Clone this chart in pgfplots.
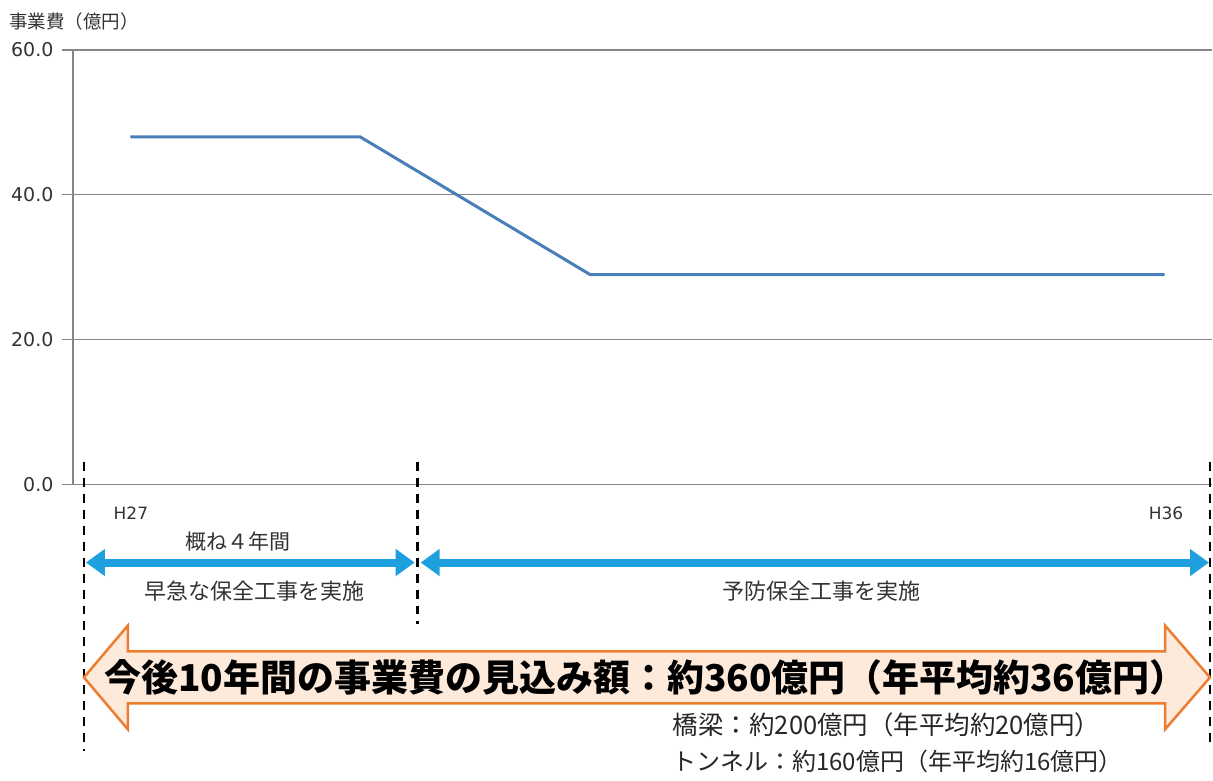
\documentclass[border=0pt]{standalone}
\usepackage{fontspec}
\setmainfont{Noto Sans CJK JP}
\newfontfamily\numfont{DejaVu Sans}
\usepackage{pgfplots}
\pgfplotsset{compat=1.18}
\usetikzlibrary{arrows.meta}
\definecolor{lineblue}{RGB}{74,126,187}
\definecolor{gridgray}{RGB}{134,134,134}
\definecolor{arrowcyan}{RGB}{30,160,222}
\definecolor{orangeedge}{RGB}{237,125,49}
\definecolor{orangefill}{RGB}{253,234,218}
\definecolor{ticktext}{RGB}{50,50,50}
\begin{document}
\begin{tikzpicture}
\begin{scope}[x=1bp,y=-1bp,shift={(-73bp,485bp)}]
\path[use as bounding box] (0,0) rectangle (1213,781);
\end{scope}
\begin{axis}[at={(0,0)}, anchor=south west, scale only axis,
  width=1140bp, height=435bp,
  xmin=-0.5, xmax=9.413, ymin=0, ymax=60,
  ytick={0,20,40,60}, xtick=\empty,
  axis lines*=left,
  axis line style={gridgray, line width=1.2bp},
  ymajorgrids, grid style={gridgray, line width=1.2bp},
  tick align=outside, major tick length=11bp,
  ytick style={gridgray, line width=1.2bp},
  yticklabel style={font=\numfont\fontsize{19bp}{21bp}\selectfont, text=ticktext, xshift=-5bp},
  clip=false,
  /pgf/number format/.cd, fixed, fixed zerofill, precision=1, assume math mode=true]
\addplot[color=lineblue, line width=3bp] coordinates {(0,48)(1,48)(2,48)(3,38.5)(4,29)(5,29)(6,29)(7,29)(8,29)(9,29)};
\end{axis}
\begin{scope}[x=1bp,y=-1bp,shift={(-73bp,485bp)}]
 \node[anchor=west, font=\fontsize{18.5bp}{20bp}\selectfont, text=ticktext, inner sep=0pt] at (9,21) {事業費（億円）};
 \draw[black, line width=2.5bp, dash pattern=on 9bp off 7bp] (84,462) -- (84,752);
 \draw[black, line width=2.5bp, dash pattern=on 9bp off 7bp] (418,462) -- (418,625);
 \draw[black, line width=2.5bp, dash pattern=on 9bp off 7bp] (1211,462) -- (1211,745);
 \node[font=\numfont\fontsize{17bp}{19bp}\selectfont, text=ticktext] at (131,514) {H27};
 \node[font=\numfont\fontsize{17bp}{19bp}\selectfont, text=ticktext] at (1167,514) {H36};
 \draw[arrowcyan, line width=8bp, {Triangle[length=19bp,width=26bp]}-{Triangle[length=19bp,width=26bp]}] (86,563) -- (415,563);
 \draw[arrowcyan, line width=8bp, {Triangle[length=19bp,width=26bp]}-{Triangle[length=19bp,width=26bp]}] (421,563) -- (1210,563);
 \node[font=\fontsize{21bp}{24bp}\selectfont, text=ticktext] at (238,542) {概ね４年間};
 \node[font=\fontsize{22bp}{25bp}\selectfont, text=ticktext] at (255,592) {早急な保全工事を実施};
 \node[font=\fontsize{22bp}{25bp}\selectfont, text=ticktext] at (822,592) {予防保全工事を実施};
 \draw[orangeedge, line width=2.5bp, fill=orangefill, line join=miter] (84,678) -- (128,626) -- (128,652) -- (1166,652) -- (1166,626) -- (1211,678) -- (1166,730) -- (1166,704) -- (128,704) -- (128,730) -- cycle;
 \node[font=\fontsize{37bp}{40bp}\selectfont\bfseries] at (646,678) {今後10年間の事業費の見込み額：約360億円（年平均約36億円）};
 \node[anchor=west, font=\fontsize{25.5bp}{27bp}\selectfont, text=black!85] at (670,725) {橋梁：約200億円（年平均約20億円）};
 \node[anchor=west, font=\fontsize{24bp}{27bp}\selectfont, text=black!85] at (670,762) {トンネル：約160億円（年平均約16億円）};
\end{scope}
\end{tikzpicture}
\end{document}
